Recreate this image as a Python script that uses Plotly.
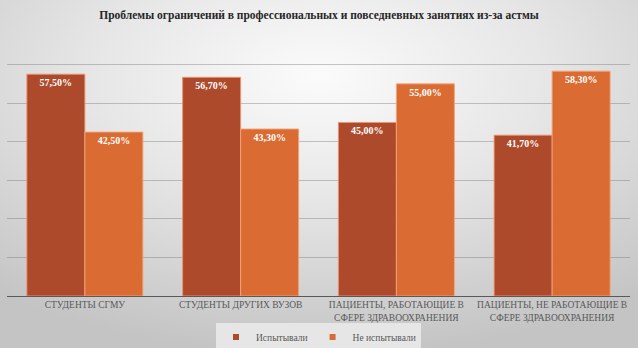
import base64
import plotly.graph_objects as go

# Survey groups and answer shares (%)
categories = [
    "СТУДЕНТЫ СГМУ",
    "СТУДЕНТЫ ДРУГИХ ВУЗОВ",
    "ПАЦИЕНТЫ, РАБОТАЮЩИЕ В<br>СФЕРЕ ЗДРАВООХРАНЕНИЯ",
    "ПАЦИЕНТЫ, НЕ РАБОТАЮЩИЕ В<br>СФЕРЕ ЗДРАВООХРАНЕНИЯ",
]
series_names = ["Испытывали", "Не испытывали"]
experienced = [57.5, 56.7, 45.0, 41.7]
not_experienced = [42.5, 43.3, 55.0, 58.3]
y_ticks = [0, 10, 20, 30, 40, 50, 60, 70]

colors = ["#ad4a2c", "#da6b32"]
edge_colors = ["rgba(235,150,115,0.9)", "rgba(245,165,120,0.9)"]
FONT = "Liberation Serif"

W, H = 638, 348
M_L, M_R, M_T, M_B = 7, 8, 26, 52
PW, PH = W - M_L - M_R, H - M_T - M_B
LEGEND_Y_PX = 337


def pct(v):
    return f"{v:.2f}%".replace(".", ",")


fig = go.Figure()
for name, vals, col, edge in zip(series_names, [experienced, not_experienced], colors, edge_colors):
    fig.add_trace(go.Bar(
        x=categories, y=vals, name=name,
        marker=dict(color=col, line=dict(color=edge, width=1)),
        text=[pct(v) for v in vals],
        textposition="inside", insidetextanchor="end", textangle=0,
        insidetextfont=dict(family=FONT, size=10, color="white", weight="bold"),
        showlegend=False, hoverinfo="skip",
    ))
    # small square legend key
    fig.add_trace(go.Scatter(
        x=[None], y=[None], mode="markers", name=name,
        marker=dict(symbol="square", size=6, color=col),
    ))

# soft radial grey backdrop
svg = (
    '<svg xmlns="http://www.w3.org/2000/svg" width="638" height="348" '
    'viewBox="0 0 638 348" preserveAspectRatio="none">'
    '<defs><radialGradient id="g" cx="0.5" cy="0.22" r="0.8">'
    '<stop offset="0" stop-color="#fbfbfb"/>'
    '<stop offset="0.45" stop-color="#e6e6e6"/>'
    '<stop offset="1" stop-color="#c4c4c4"/>'
    '</radialGradient></defs>'
    '<rect width="638" height="348" fill="url(#g)"/></svg>'
)
bg_src = "data:image/svg+xml;base64," + base64.b64encode(svg.encode()).decode()

fig.update_layout(
    width=W, height=H,
    margin=dict(l=M_L, r=M_R, t=M_T, b=M_B, pad=0, autoexpand=False),
    paper_bgcolor="#dcdcdc",
    plot_bgcolor="rgba(0,0,0,0)",
    barmode="group", bargap=0.255, bargroupgap=0,
    images=[dict(
        source=bg_src, xref="paper", yref="paper",
        x=-M_L / PW, y=1 + M_T / PH, sizex=W / PW, sizey=H / PH,
        xanchor="left", yanchor="top", sizing="stretch", layer="below",
    )],
    title=dict(
        text="<b>Проблемы ограничений в профессиональных и повседневных занятиях из-за астмы</b>",
        x=0.5, xref="container", xanchor="center",
        y=1 - 15 / H, yref="container", yanchor="middle",
        font=dict(family=FONT, size=11.5, color="#262626"),
    ),
    xaxis=dict(
        showline=True, linecolor="#595959", linewidth=1,
        ticks="", showgrid=False,
        tickfont=dict(family=FONT, size=9.5, color="#595959"),
    ),
    yaxis=dict(
        range=[0, 70], tickvals=y_ticks, showticklabels=False,
        showgrid=True, gridcolor="rgba(110,110,110,0.38)", gridwidth=1,
        zeroline=False, showline=False,
    ),
    legend=dict(
        orientation="h", x=0.5, xanchor="center",
        y=-(LEGEND_Y_PX - (H - M_B)) / PH, yanchor="middle",
        bgcolor="#e6e6e6", itemwidth=30,
        font=dict(family=FONT, size=9.5, color="#595959"),
        tracegroupgap=0,
    ),
)

fig.write_html("out.html")
